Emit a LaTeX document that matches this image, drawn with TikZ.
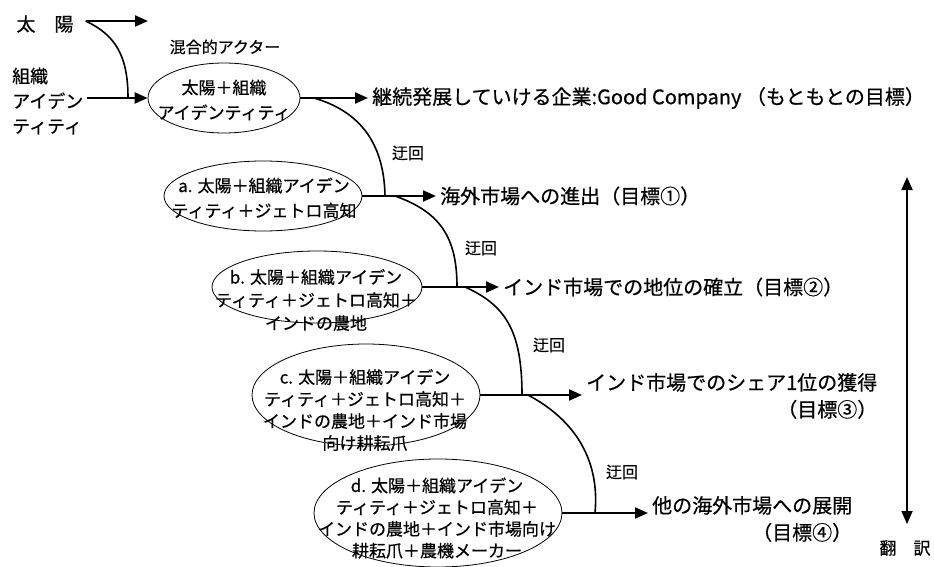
\documentclass[tikz,border=0pt]{standalone}
\usepackage{fontspec}
\setmainfont{Noto Sans CJK JP}[FakeBold=0.5]
\usetikzlibrary{arrows.meta,shapes.geometric}
\begin{document}
\begin{tikzpicture}[x=1pt,y=-1pt,
  arr/.style={line width=2.2pt,-{Triangle[length=13pt,width=11pt]}},
  darr/.style={line width=1.8pt,{Triangle[length=13pt,width=11pt]}-{Triangle[length=13pt,width=11pt]}},
  curve/.style={line width=1.6pt},
  oval/.style={draw,line width=0.8pt,ellipse,inner sep=0pt},
  etext/.style={align=center,inner sep=0pt},
  goal/.style={font=\fontsize{20pt}{27pt}\selectfont,align=right,inner xsep=4pt,inner ysep=1pt,anchor=west},
  lbl/.style={font=\fontsize{16pt}{20pt}\selectfont,inner sep=0pt},
  ]
\useasboundingbox (0,0) rectangle (934,567);

% top-left actors
\node[font=\fontsize{19pt}{22pt}\selectfont,inner xsep=12pt,inner ysep=0pt] (sun) at (45,24) {太　陽};
\coordinate (sunend) at (148,21);
\node[font=\fontsize{18pt}{25pt}\selectfont,align=left,anchor=west,inner xsep=3pt,inner ysep=0pt] (org) at (9,101) {組織\\アイデン\\ティティ};
\node[lbl] (mix) at (225,47) {混合的アクター};

% ellipses
\node[oval,minimum width=152pt,minimum height=70pt] (e1) at (224,98) {};
\node[etext,font=\fontsize{17pt}{25pt}\selectfont] (t1) at (224,100) {太陽＋組織\\アイデンティティ};

\node[oval,minimum width=198pt,minimum height=70pt] (ea) at (263,196) {};
\node[etext,font=\fontsize{17pt}{25pt}\selectfont] (ta) at (264,198) {a. 太陽＋組織アイデン\\ティティ＋ジェトロ高知};

\node[oval,minimum width=210pt,minimum height=72pt] (eb) at (317,287) {};
\node[etext,font=\fontsize{17pt}{23pt}\selectfont] (tb) at (316,300) {b. 太陽＋組織アイデン\\ティティ＋ジェトロ高知＋\\インドの農地};

\node[oval,minimum width=228pt,minimum height=102pt] (ec) at (366,395) {};
\node[etext,font=\fontsize{17pt}{22pt}\selectfont] (tc) at (365,410) {c. 太陽＋組織アイデン\\ティティ＋ジェトロ高知＋\\インドの農地＋インド市場\\向け耕耘爪};

\node[oval,minimum width=248pt,minimum height=108pt] (ed) at (438,513) {};
\node[etext,font=\fontsize{17pt}{21.7pt}\selectfont] (td) at (437,518) {d. 太陽＋組織アイデン\\ティティ＋ジェトロ高知＋\\インドの農地＋インド市場向け\\耕耘爪＋農機メーカー};

% goals
\node[goal] (g0) at (368,98) {継続発展していける企業:Good Company （もともとの目標）};
\node[goal] (g1) at (436,196) {海外市場への進出（目標①）};
\node[goal] (g2) at (499,287) {インド市場での地位の確立（目標②）};
\node[goal] (g3) at (582,396) {インド市場でのシェア1位の獲得\\（目標③）};
\node[goal] (g4) at (648,519) {他の海外市場への展開\\（目標④）};

% detour labels
\node[lbl] (d1) at (408,153) {迂回};
\node[lbl] (d2) at (481,248) {迂回};
\node[lbl] (d3) at (549,345) {迂回};
\node[lbl] (d4) at (622,472) {迂回};

% translation axis
\node[font=\fontsize{17pt}{20pt}\selectfont,inner sep=0pt] (tr) at (905,548) {翻　訳};
\coordinate (rtop) at (907,177);
\coordinate (rbot) at (907,524);
\draw[darr] (rbot) -- (rtop);

% arrows
\coordinate (m0) at (128,98);
\draw[arr] (sun.east |- sunend) -- (sunend);
\draw[curve] (sun.east |- sunend) .. controls (115,35) and (128,55) .. (m0);
\draw[arr] (org.east |- e1.west) -- (e1.west);

\draw[arr] (e1.east) -- (e1.east -| g0.west);
\draw[arr] (ea.east) -- (ea.east -| g1.west);
\draw[arr] (eb.east) -- (eb.east -| g2.west);
\draw[arr] (ec.east) -- (ec.east -| g3.west);
\draw[arr] (ed.east) -- (ed.east -| g4.west);

% detour curves
\coordinate (s1) at (314,98);  \coordinate (j1) at (385,196);
\coordinate (s2) at (395,196); \coordinate (j2) at (457,287);
\coordinate (s3) at (465,287); \coordinate (j3) at (522,395);
\coordinate (s4) at (528,395); \coordinate (j4) at (595,513);
\draw[curve] (s1) .. controls (355,110) and (384,138) .. (j1);
\draw[curve] (s2) .. controls (440,212) and (457,237) .. (j2);
\draw[curve] (s3) .. controls (505,305) and (522,330) .. (j3);
\draw[curve] (s4) .. controls (575,420) and (600,460) .. (j4);
\end{tikzpicture}
\end{document}
